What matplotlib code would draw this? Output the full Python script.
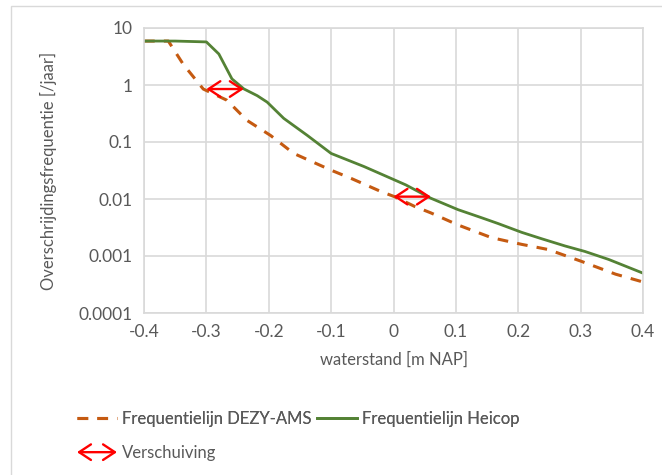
import matplotlib
matplotlib.use("Agg")
import matplotlib.pyplot as plt
from matplotlib.lines import Line2D
from matplotlib.patches import Rectangle, FancyArrowPatch
from matplotlib.legend_handler import HandlerPatch

plt.rcParams['font.family'] = ['Lato', 'DejaVu Sans']

# waterstand [m NAP] vs overschrijdingsfrequentie [/jaar]
dezy_x = [-0.40, -0.361, -0.337, -0.305, -0.267, -0.235, -0.197, -0.16, -0.10, -0.068,
          -0.02, 0.0015, 0.034, 0.06, 0.1035, 0.157, 0.2055, 0.248, 0.302, 0.356, 0.40]
dezy_y = [5.9, 5.9, 2.3, 0.85, 0.54, 0.24, 0.13, 0.063, 0.032, 0.023,
          0.0135, 0.011, 0.0074, 0.0057, 0.0035, 0.0021, 0.0016, 0.0013, 0.0008, 0.00048, 0.00035]

heicop_x = [-0.40, -0.35, -0.30, -0.28, -0.259, -0.24, -0.2185, -0.2025, -0.176, -0.138,
            -0.10, -0.047, -0.004, 0.0196, 0.06, 0.1035, 0.141, 0.168, 0.2055, 0.238,
            0.275, 0.307, 0.345, 0.40]
heicop_y = [5.9, 5.9, 5.7, 3.5, 1.28, 0.855, 0.65, 0.5, 0.26, 0.13,
            0.063, 0.037, 0.023, 0.0177, 0.0103, 0.0065, 0.0047, 0.0037, 0.0026, 0.002,
            0.0015, 0.0012, 0.00087, 0.0005]

# shift arrows: (x_start, x_end, frequency)
shifts = [(-0.30, -0.24, 0.85), (0.0, 0.06, 0.011)]

orange = '#c55a11'
green = '#548235'
grid_c = '#d9d9d9'
text_c = '#595959'

fig = plt.figure(figsize=(6.62, 4.75), dpi=100)
fig.patches.append(Rectangle((11 / 662, -0.1), 1.2, 1 - 6 / 475 + 0.1, transform=fig.transFigure,
                             fill=False, edgecolor='#d9d9d9', linewidth=1))

ax = fig.add_axes([144 / 662, 1 - 313 / 475, (643 - 144) / 662, (313 - 28) / 475])
ax.plot(dezy_x, dezy_y, color=orange, linestyle=(0, (3.5, 3)), linewidth=2.2)
ax.plot(heicop_x, heicop_y, color=green, linewidth=2)

arrow_kw = dict(arrowstyle='<->,head_length=0.5,head_width=0.33', color='red', lw=1.7,
                mutation_scale=17, shrinkA=0, shrinkB=0)
for x0, x1, f in shifts:
    ax.annotate('', xy=(x1, f), xytext=(x0, f), arrowprops=arrow_kw)

ax.set_yscale('log')
ax.set_xlim(-0.4, 0.4)
ax.set_ylim(0.0001, 10)
ax.set_xticks([-0.4, -0.3, -0.2, -0.1, 0, 0.1, 0.2, 0.3, 0.4])
ax.set_xticklabels(['-0.4', '-0.3', '-0.2', '-0.1', '0', '0.1', '0.2', '0.3', '0.4'])
ax.set_yticks([0.0001, 0.001, 0.01, 0.1, 1, 10])
ax.set_yticklabels(['0.0001', '0.001', '0.01', '0.1', '1', '10'])
ax.minorticks_off()
ax.tick_params(length=0, labelsize=12.5, colors=text_c, pad=8)
ax.grid(True, color=grid_c, linewidth=1.2)
ax.set_axisbelow(True)
for s in ax.spines.values():
    s.set_color(grid_c)
    s.set_linewidth(1.2)

ax.set_xlabel('waterstand [m NAP]', fontsize=12, color=text_c, labelpad=8)
ax.set_ylabel('Overschrijdingsfrequentie [/jaar]', fontsize=12, color=text_c, labelpad=16)


class ArrowHandler(HandlerPatch):
    def create_artists(self, legend, orig_handle, xdescent, ydescent, width, height, fontsize, trans):
        a = FancyArrowPatch((-xdescent, height / 2 - ydescent), (width - xdescent, height / 2 - ydescent),
                            transform=trans, **arrow_kw)
        return [a]


h_dezy = Line2D([], [], color=orange, linestyle=(0, (3.5, 3)), linewidth=2.2)
h_heicop = Line2D([], [], color=green, linewidth=2)
h_shift = FancyArrowPatch((0, 0), (1, 0))

leg1 = fig.legend([h_dezy, h_heicop], ['Frequentielijn DEZY-AMS', 'Frequentielijn Heicop'],
                  loc='center left', bbox_to_anchor=(62 / 662, 1 - 419 / 475), ncol=2,
                  frameon=False, fontsize=12, handlelength=2.4, handletextpad=0.3,
                  columnspacing=0.3, labelcolor=text_c)
fig.add_artist(leg1)
fig.legend([h_shift], ['Verschuiving'], handler_map={FancyArrowPatch: ArrowHandler()},
           loc='center left', bbox_to_anchor=(62 / 662, 1 - 453 / 475),
           frameon=False, fontsize=12, handlelength=2.4, handletextpad=0.3, labelcolor=text_c)

fig.savefig('out.png', dpi=100)
